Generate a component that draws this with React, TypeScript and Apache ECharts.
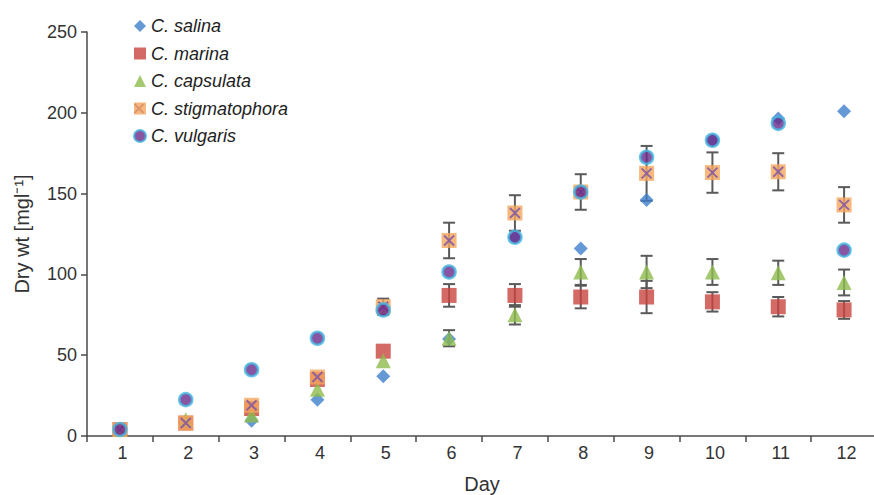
import React, { useEffect, useRef } from "react";
import * as echarts from "echarts";

const days = ["1", "2", "3", "4", "5", "6", "7", "8", "9", "10", "11", "12"];
const yTicks = { min: 0, max: 250, interval: 50 };

const salina = [4, 8, 9.5, 22.5, 37, 60, 123, 116, 146, 183, 196.5, 201];
const marina = [4, 8, 17, 35, 52.5, 87, 87, 86, 86, 83, 80, 78];
const marinaErr = [0, 0, 0, 0, 0, 7, 7, 7, 10, 6, 6, 5.5];
const capsulata = [4, 10, 13, 29, 46.5, 60.5, 75, 101.5, 101.5, 101.5, 101, 95];
const capsulataErr = [0, 0, 0, 0, 0, 5, 6, 8, 10, 8, 7.5, 8];
const stigmatophora = [4, 8, 19, 36.5, 80, 121, 138, 151, 162.5, 163, 163.5, 143];
const stigmatophoraErr = [0, 0, 0, 0, 5, 11, 11, 11, 17, 12.5, 11.5, 11];
const vulgaris = [4, 22.5, 41, 60.5, 78, 101.5, 123, 151, 172.5, 183, 193.5, 115];

const names = ["C. salina", "C. marina", "C. capsulata", "C. stigmatophora", "C. vulgaris"];

const FONT = "'Liberation Sans', Arial, sans-serif";
const AXIS = "#4a4a4a";
const ERR = "#5a5a5a";
const X_COLOR = "#7a52a6";

const LEG_LEFT = 133;
const LEG_TOP = 17;
const LEG_ICON = 12;
const LEG_LINE = 18;
const LEG_GAP = 9.5;

function errData(vals: number[], errs: number[]) {
  const out: number[][] = [];
  vals.forEach((v, i) => {
    if (errs[i] > 0) out.push([i, v - errs[i], v + errs[i]]);
  });
  return out;
}

function errSeries(vals: number[], errs: number[]) {
  return {
    type: "custom",
    silent: true,
    z: 1,
    data: errData(vals, errs),
    encode: { x: 0, y: [1, 2] },
    renderItem: (params: any, api: any) => {
      const x = api.value(0);
      const lo = api.coord([x, api.value(1)]);
      const hi = api.coord([x, api.value(2)]);
      const w = 6;
      const st = { stroke: ERR, lineWidth: 2 };
      return {
        type: "group",
        children: [
          { type: "line", shape: { x1: lo[0], y1: lo[1], x2: hi[0], y2: hi[1] }, style: st },
          { type: "line", shape: { x1: lo[0] - w, y1: lo[1], x2: lo[0] + w, y2: lo[1] }, style: st },
          { type: "line", shape: { x1: hi[0] - w, y1: hi[1], x2: hi[0] + w, y2: hi[1] }, style: st },
        ],
      };
    },
  };
}

const xPath = "path://M0,0L10,10M10,0L0,10";

export default function App() {
  const ref = useRef<HTMLDivElement>(null);
  useEffect(() => {
    if (!ref.current) return;
    const chart = echarts.init(ref.current, undefined, { renderer: "svg" });
    const stigCy = LEG_TOP + LEG_LINE / 2 + 3 * (LEG_LINE + LEG_GAP);
    const stigCx = LEG_LEFT + LEG_ICON / 2;
    const h = 4.5;
    const option: any = {
      animation: false,
      backgroundColor: "#ffffff",
      textStyle: { fontFamily: FONT },
      grid: {
        left: 87,
        top: 32,
        width: 790,
        height: 404,
        containLabel: false,
        outerBoundsMode: "none",
      },
      legend: {
        data: names,
        orient: "vertical",
        left: LEG_LEFT,
        top: LEG_TOP,
        padding: 0,
        itemWidth: LEG_ICON,
        itemHeight: LEG_ICON,
        itemGap: LEG_GAP,
        selectedMode: false,
        textStyle: {
          fontFamily: FONT,
          fontStyle: "italic",
          fontSize: 18,
          color: "#222",
          lineHeight: LEG_LINE,
        },
      },
      graphic: [
        {
          type: "group",
          z: 100,
          silent: true,
          children: [
            {
              type: "line",
              shape: { x1: stigCx - h, y1: stigCy - h, x2: stigCx + h, y2: stigCy + h },
              style: { stroke: X_COLOR, lineWidth: 2 },
            },
            {
              type: "line",
              shape: { x1: stigCx + h, y1: stigCy - h, x2: stigCx - h, y2: stigCy + h },
              style: { stroke: X_COLOR, lineWidth: 2 },
            },
          ],
        },
      ],
      xAxis: {
        type: "category",
        data: days,
        boundaryGap: true,
        name: "Day",
        nameLocation: "middle",
        nameGap: 38,
        nameTextStyle: { fontSize: 20, color: "#333", fontFamily: FONT },
        axisLine: { lineStyle: { color: AXIS, width: 1.5 } },
        axisTick: { show: true, alignWithLabel: false, length: 6, lineStyle: { color: AXIS, width: 1.5 } },
        axisLabel: { fontSize: 18, color: "#333", margin: 8, padding: [0, 0, 0, 5], fontFamily: FONT },
        splitLine: { show: false },
      },
      yAxis: {
        type: "value",
        min: yTicks.min,
        max: yTicks.max,
        interval: yTicks.interval,
        name: "Dry wt [mgl⁻¹]",
        nameLocation: "middle",
        nameGap: 55,
        nameRotate: 90,
        nameTextStyle: { fontSize: 20, color: "#333", fontFamily: FONT },
        axisLine: { show: true, lineStyle: { color: AXIS, width: 1.5 } },
        axisTick: { show: true, length: 6, lineStyle: { color: AXIS, width: 1.5 } },
        axisLabel: { fontSize: 18, color: "#333", margin: 10, fontFamily: FONT },
        splitLine: { show: false },
      },
      series: [
        errSeries(marina, marinaErr),
        errSeries(capsulata, capsulataErr),
        errSeries(stigmatophora, stigmatophoraErr),
        { name: names[0], type: "scatter", z: 2, symbol: "diamond", symbolSize: 14, itemStyle: { color: "#3f7fcc" }, data: salina },
        { name: names[1], type: "scatter", z: 2, symbol: "rect", symbolSize: 15, itemStyle: { color: "#c9453f" }, data: marina },
        { name: names[2], type: "scatter", z: 2, symbol: "triangle", symbolSize: 15, itemStyle: { color: "#8dbb4c" }, data: capsulata },
        { name: names[3], type: "scatter", z: 2, symbol: "rect", symbolSize: 15, itemStyle: { color: "#f5a65c" }, data: stigmatophora },
        { name: "stig-x", type: "scatter", z: 2, symbol: xPath, symbolSize: 10, itemStyle: { color: "transparent", borderColor: X_COLOR, borderWidth: 2 }, data: stigmatophora },
        { name: names[4], type: "scatter", z: 2, symbol: "circle", symbolSize: 13, itemStyle: { color: "#6a2b8c", borderColor: "#45b8e2", borderWidth: 2.5 }, data: vulgaris },
      ],
    };
    chart.setOption(option);
    return () => chart.dispose();
  }, []);
  return (
    <div
      ref={ref}
      style={{ position: "fixed", left: 0, top: 0, width: 874, height: 495, background: "#fff" }}
    />
  );
}
